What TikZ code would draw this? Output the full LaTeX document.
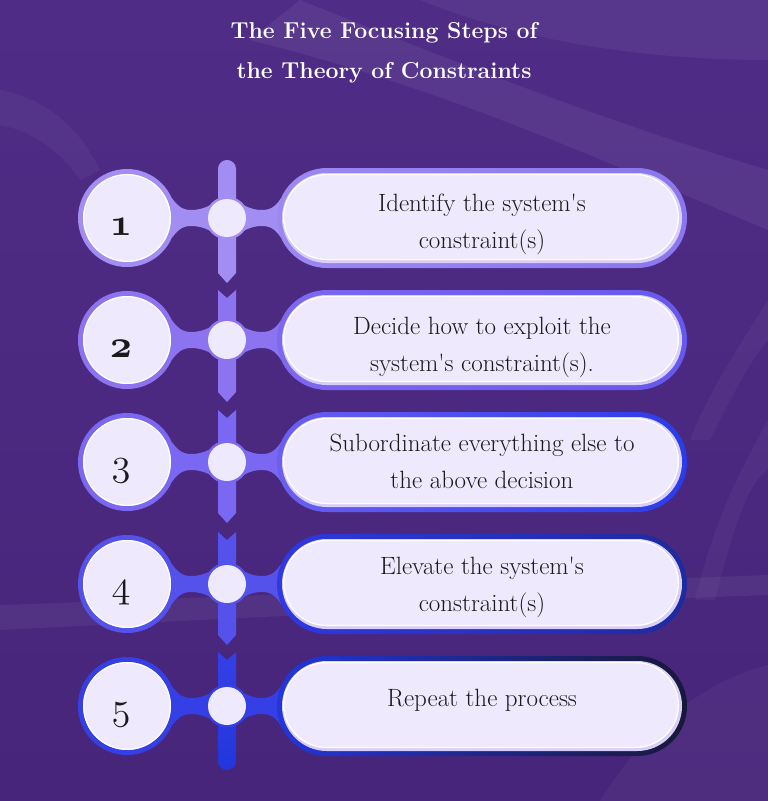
\documentclass[tikz,border=0pt]{standalone}
\usepackage{fontspec}
\usepackage{graphicx}
\usetikzlibrary{calc}
\definecolor{bgtop}{HTML}{4F2D86}
\definecolor{bgbot}{HTML}{47257A}
\definecolor{inner}{HTML}{EFE9FD}
\definecolor{innerdk}{HTML}{D9CEF8}
\definecolor{txt}{HTML}{1A1A1A}
\definecolor{rA}{HTML}{A28EF2}
\definecolor{rB}{HTML}{8C73F0}
\definecolor{rC}{HTML}{7A68F2}
\definecolor{rD}{HTML}{5552EC}
\definecolor{rE}{HTML}{3440E6}
\definecolor{pAl}{HTML}{9C88F1}\definecolor{pAr}{HTML}{8A76EE}
\definecolor{pBl}{HTML}{7E68F0}\definecolor{pBr}{HTML}{6658EE}
\definecolor{pCl}{HTML}{6A5FF2}\definecolor{pCr}{HTML}{2A3CEA}
\definecolor{pDl}{HTML}{3038E2}\definecolor{pDr}{HTML}{1E2A9E}
\definecolor{pEl}{HTML}{2236DC}\definecolor{pEr}{HTML}{181838}
\newcommand\numfnt[1]{\scalebox{1.55}{\fontsize{24.88}{24.88}\usefont{OML}{cmm}{m}{it}#1}}
\newcommand\numfntb[1]{\scalebox{1.55}{\fontsize{24.88}{24.88}\usefont{OML}{cmm}{b}{it}#1}}
\tikzset{
  steptext/.style={text=txt,align=center,font=\fontsize{25}{37}\selectfont},
  numtext/.style={text=txt},
}
% #1 centre y, #2 ring colour, #3 pill left, #4 pill right, #5 number, #6 text, #7 name, #8 text offset
\newcommand\steprow[8]{%
  \fill[#2] (171.7,#1-20) .. controls (180,#1-9) and (185,#1-8) .. (191,#1-8)
     .. controls (197,#1-8) and (203,#1-9) .. (210.5,#1-13) -- (210.5,#1+13)
     .. controls (203,#1+9) and (197,#1+8) .. (191,#1+8)
     .. controls (185,#1+8) and (180,#1+9) .. (171.7,#1+20) -- cycle;
  \fill[#2] (243.5,#1-13) .. controls (251,#1-9) and (256,#1-8) .. (262,#1-8)
     .. controls (268,#1-8) and (274,#1-9) .. (281.2,#1-20) -- (281.2,#1+20)
     .. controls (274,#1+9) and (268,#1+8) .. (262,#1+8)
     .. controls (256,#1+8) and (251,#1+9) .. (243.5,#1+13) -- cycle;
  \fill[#2] (127,#1) circle (49);
  \fill[inner] (127,#1) circle (44);
  \draw[white,line width=1.2pt] (127,#1) circle (43.3);
  \fill[#2] (227,#1) circle (21.5);
  \fill[inner] (227,#1) circle (19);
  \shade[left color=#3,right color=#4,rounded corners=49.9pt] (277,#1-50) rectangle (687,#1+50);
  \fill[innerdk,rounded corners=44.9pt] (282,#1-45) rectangle (682,#1+45);
  \fill[inner,rounded corners=43pt] (283,#1-44) rectangle (679,#1+42);
  \draw[white,line width=1.2pt,rounded corners=43pt] (283.6,#1-43.4) rectangle (678.4,#1+41.4);
  \node[numtext] (n#7) at (121,#1+9) {#5};
  \node[steptext] (p#7) at (482,#1+#8) {#6};
}
\begin{document}
\begin{tikzpicture}[x=1pt,y=-1pt]
\useasboundingbox (0,0) rectangle (768,801);
\shade[top color=bgtop,bottom color=bgbot] (0,0) rectangle (768,801);
\begin{scope}
\clip (0,0) rectangle (768,801);
\fill[white,opacity=.06] (300,0) .. controls (450,60) and (600,120) .. (768,170) -- (768,230) .. controls (600,160) and (450,90) .. (250,40) -- cycle;
\fill[white,opacity=.05] (420,0) .. controls (520,40) and (640,60) .. (768,60) -- (768,0) -- cycle;
\fill[white,opacity=.04] (0,90) .. controls (50,100) and (80,130) .. (100,170) -- (80,180) .. controls (60,150) and (30,130) .. (0,125) -- cycle;
\fill[white,opacity=.04] (768,300) .. controls (730,360) and (705,400) .. (690,440) -- (710,440) .. controls (730,400) and (750,360) .. (768,340) -- cycle;
\fill[white,opacity=.04] (768,420) .. controls (735,480) and (715,520) .. (695,600) -- (715,600) .. controls (735,520) and (750,480) .. (768,470) -- cycle;
\fill[white,opacity=.05] (0,605) .. controls (200,598) and (500,585) .. (768,575) -- (768,595) .. controls (500,605) and (200,620) .. (0,630) -- cycle;
\fill[white,opacity=.04] (600,801) .. controls (650,720) and (710,680) .. (768,665) -- (768,801) -- cycle;
\end{scope}
\node[text=white,align=center,font=\bfseries\fontsize{23}{40}\selectfont] (title) at (384,53) {The Five Focusing Steps of\\the Theory of Constraints};
\fill[rA] (218,273) [rounded corners=8.9pt] -- (218,160) -- (236,160) [sharp corners] -- (236,273) -- (227,283) -- cycle;
\fill[rB] (218,290) -- (227,298) -- (236,290) -- (236,392) -- (227,402) -- (218,392) -- cycle;
\fill[rC] (218,410) -- (227,418) -- (236,410) -- (236,513) -- (227,523) -- (218,513) -- cycle;
\fill[rD] (218,532) -- (227,540) -- (236,532) -- (236,635) -- (227,645) -- (218,635) -- cycle;
\shade[top color=rE,bottom color=pEl] (218,652) -- (227,660) -- (236,652) [rounded corners=8.9pt] -- (236,770) -- (218,770) [sharp corners] -- cycle;
\steprow{218}{rA}{pAl}{pAr}{\numfntb{1}}{Identify the system\textquotesingle s\\constraint(s)}{1}{6}
\steprow{340}{rB}{pBl}{pBr}{\numfntb{2}}{Decide how to exploit the\\system\textquotesingle s constraint(s).}{2}{7}
\steprow{462}{rC}{pCl}{pCr}{\numfnt{3}}{Subordinate everything else to\\the above decision}{3}{-1}
\steprow{584}{rD}{pDl}{pDr}{\numfnt{4}}{Elevate the system\textquotesingle s\\constraint(s)}{4}{3}
\steprow{706}{rE}{pEl}{pEr}{\numfnt{5}}{Repeat the process}{5}{-6}
\end{tikzpicture}
\end{document}
